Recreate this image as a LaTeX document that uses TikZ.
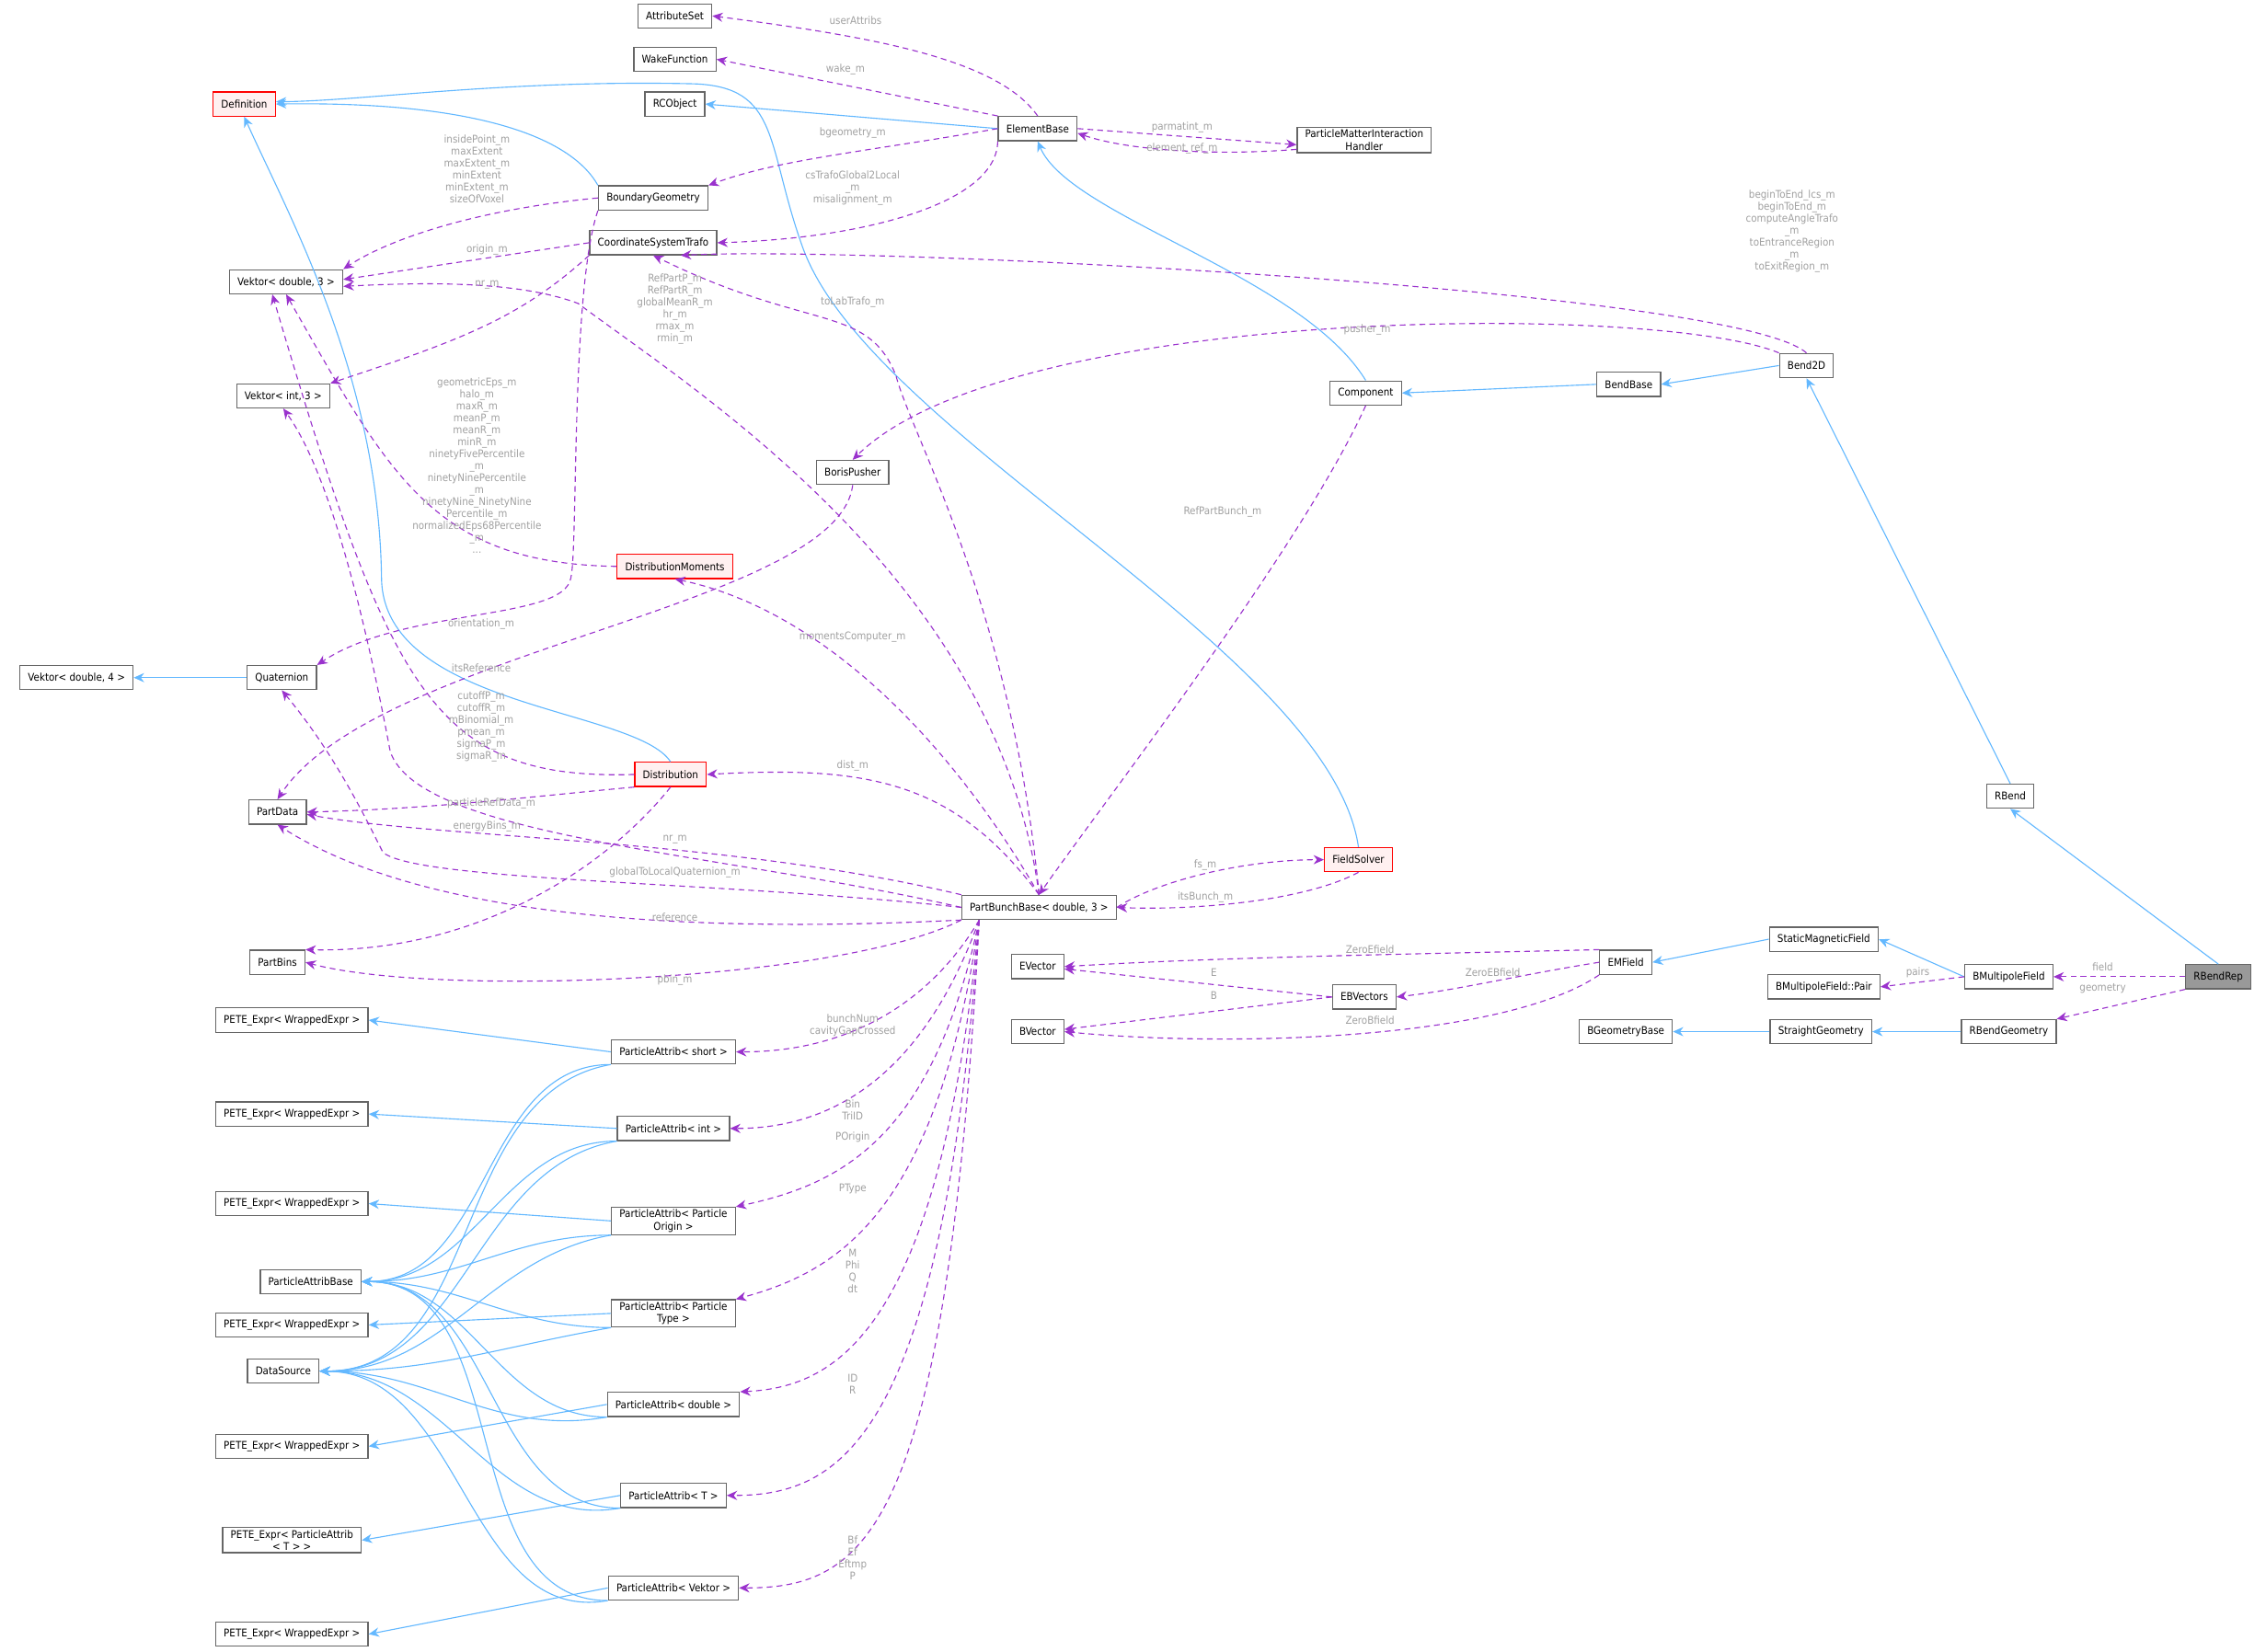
\documentclass[tikz,border=0pt]{standalone}
\usepackage{fontspec}
\setmainfont{DejaVu Sans Condensed}
\usetikzlibrary{arrows.meta,positioning}
\definecolor{dxblue}{RGB}{99,184,255}
\definecolor{dxpurple}{RGB}{154,50,205}
\definecolor{dxgray}{RGB}{102,102,102}
\definecolor{dxlabel}{RGB}{160,160,160}
\definecolor{dxred}{RGB}{255,240,240}
\tikzset{
  cls/.style={draw=dxgray,fill=white,line width=0.5pt,minimum height=10.5pt,inner xsep=3.5pt,inner ysep=1pt,font=\fontsize{4.6}{5.4}\selectfont,align=center},
  clsred/.style={cls,draw=red,fill=dxred},
  clssel/.style={cls,fill=gray!80},
  inh/.style={draw=dxblue,line width=0.45pt,-{Stealth[length=4.5pt,width=4pt]}},
  dep/.style={draw=dxpurple,line width=0.45pt,dashed,dash pattern=on 2.5pt off 1.8pt,-{Stealth[length=4.5pt,width=4pt]}},
  lbl/.style={text=dxlabel,font=\fontsize{4.6}{5.2}\selectfont,align=center,inner sep=0pt}
}
\begin{document}
\begin{tikzpicture}[x=0.628pt,y=-0.628pt]
  \useasboundingbox (0,0) rectangle (1568,1143);
  % top row
  \node[cls] (attrset) at (467,11) {AttributeSet};
  \node[cls] (wake) at (467,41) {WakeFunction};
  \node[cls] (rco) at (467,72) {RCObject};
  \node[clsred] (def) at (169,72) {Definition};
  \node[cls] (elem) at (718,89) {ElementBase};
  \node[cls] (pmih) at (944,97) {ParticleMatterInteraction\\Handler};
  \node[cls] (bgeo) at (452,137) {BoundaryGeometry};
  \node[cls] (cst) at (452,168) {CoordinateSystemTrafo};
  \node[cls] (vd3) at (198,195) {Vektor< double, 3 >};
  \node[cls] (vi3) at (196,274) {Vektor< int, 3 >};
  \node[cls] (boris) at (590,327) {BorisPusher};
  \node[cls] (comp) at (945,272) {Component};
  \node[cls] (bendb) at (1127,266) {BendBase};
  \node[cls] (bend2d) at (1250,253) {Bend2D};
  \node[clsred] (dmom) at (467,392) {DistributionMoments};
  \node[cls] (vd4) at (53,469) {Vektor< double, 4 >};
  \node[cls] (quat) at (195,469) {Quaternion};
  \node[cls] (pdata) at (192,562) {PartData};
  \node[clsred] (dist) at (464,536) {Distribution};
  \node[cls] (rbend) at (1391,551) {RBend};
  \node[clsred] (fsolv) at (940,595) {FieldSolver};
  \node[cls] (pbb) at (719,628) {PartBunchBase< double, 3 >};
  \node[cls] (pbins) at (192,666) {PartBins};
  % field side
  \node[cls] (evec) at (718,669) {EVector};
  \node[cls] (bvec) at (718,714) {BVector};
  \node[cls] (ebvec) at (944,690) {EBVectors};
  \node[cls] (emf) at (1125,666) {EMField};
  \node[cls] (smf) at (1262,650) {StaticMagneticField};
  \node[cls] (bmpair) at (1262,683) {BMultipoleField::Pair};
  \node[cls] (bmf) at (1390,676) {BMultipoleField};
  \node[clssel] (rbrep) at (1535,676) {RBendRep};
  \node[cls] (bgb) at (1125,714) {BGeometryBase};
  \node[cls] (sgeo) at (1260,714) {StraightGeometry};
  \node[cls] (rbgeo) at (1390,714) {RBendGeometry};
  % particle attributes
  \node[cls] (pab) at (215,887) {ParticleAttribBase};
  \node[cls] (dsrc) at (196,949) {DataSource};
  \node[cls] (pete7) at (202,1066) {PETE\_Expr< ParticleAttrib\\< T > >};
  \foreach \n/\y in {1/706,2/771,3/833,4/917,5/1001,6/1131}
    \node[cls] (pete\n) at (202,\y) {PETE\_Expr< WrappedExpr >};
  \node[cls] (pashort) at (466,728) {ParticleAttrib< short >};
  \node[cls] (paint) at (466,781) {ParticleAttrib< int >};
  \node[cls] (paorig) at (466,845) {ParticleAttrib< Particle\\Origin >};
  \node[cls] (patype) at (466,909) {ParticleAttrib< Particle\\Type >};
  \node[cls] (padbl) at (466,972) {ParticleAttrib< double >};
  \node[cls] (pat) at (466,1035) {ParticleAttrib< T >};
  \node[cls] (pavek) at (466,1099) {ParticleAttrib< Vektor >};
  \coordinate (pbbs) at ([xshift=-26pt]pbb.south);

  % inheritance
  \draw[inh] (elem.west) -- (rco.east);
  \draw[inh] (bgeo.north west) .. controls (395,95) and (330,70) .. (def.east);
  \draw[inh] (fsolv.north) .. controls (920,450) and (600,300) .. (555,170) .. controls (530,100) and (540,60) .. (480,58) .. controls (350,55) and (250,70) .. ([yshift=1pt]def.east);
  \draw[inh] (dist.north) .. controls (440,490) and (265,490) .. (264,400) .. controls (262,260) and (200,150) .. (def.south);
  \draw[inh] (comp.north) .. controls (900,190) and (740,150) .. (elem.south);
  \draw[inh] (bendb.west) -- (comp.east);
  \draw[inh] (bend2d.west) -- (bendb.east);
  \draw[inh] (rbend.north) -- (bend2d.south);
  \draw[inh] (rbrep.north) -- (rbend.south);
  \draw[inh] (bmf.west) -- (smf.east);
  \draw[inh] (smf.west) -- (emf.east);
  \draw[inh] (rbgeo.west) -- (sgeo.east);
  \draw[inh] (sgeo.west) -- (bgb.east);
  \draw[inh] (quat.west) -- (vd4.east);
  \foreach \a/\p in {pashort/pete1,paint/pete2,paorig/pete3,patype/pete4,padbl/pete5,pat/pete7,pavek/pete6}
  {
    \draw[inh] (\a.west) -- (\p.east);
    \draw[inh] (\a.south west) to[out=180,in=0] (pab.east);
    \draw[inh] (\a.south west) to[out=190,in=0] (dsrc.east);
  }

  % members
  \draw[dep] (elem.north) .. controls (690,40) and (600,25) .. (attrset.east);
  \draw[dep] (elem.north west) -- (wake.east);
  \draw[dep] (elem.west) .. controls (600,105) and (540,110) .. (bgeo.north east);
  \draw[dep] (elem.south west) .. controls (690,140) and (600,165) .. (cst.east);
  \draw[dep] (elem.east) -- ([yshift=-2pt]pmih.west);
  \draw[dep] ([yshift=-4pt]pmih.west) .. controls (840,108) and (780,104) .. ([yshift=-2pt]elem.east);
  \draw[dep] (bgeo.west) .. controls (330,145) and (270,165) .. (vd3.north east);
  \draw[dep] (cst.west) -- ([yshift=1pt]vd3.east);
  \draw[dep] (cst.south west) .. controls (360,220) and (320,235) .. (vi3.north east);
  \draw[dep] (bgeo.south west) .. controls (395,200) and (400,380) .. (395,400) .. controls (390,430) and (280,420) .. (quat.north east);
  \draw[dep] (bend2d.north) .. controls (1200,200) and (600,170) .. ([xshift=12pt]cst.south);
  \draw[dep] (bend2d.north west) .. controls (1150,210) and (700,210) .. (boris.north);
  \draw[dep] (pbb.north) .. controls (700,420) and (630,300) .. (620,260) .. controls (600,210) and (560,230) .. (cst.south);
  \draw[dep] (pbb.north) .. controls (690,400) and (480,270) .. (400,210) .. controls (360,195) and (300,195) .. ([yshift=-2pt]vd3.east);
  \draw[dep] (dmom.west) .. controls (300,390) and (270,330) .. (vd3.south);
  \draw[dep] (dist.west) .. controls (300,540) and (270,480) .. ([xshift=-6pt]vd3.south);
  \draw[dep] (boris.south) .. controls (580,420) and (260,450) .. (pdata.north);
  \draw[dep] (comp.south) .. controls (900,380) and (760,560) .. (pbb.north);
  \draw[dep] (pbb.north) .. controls (650,500) and (560,420) .. (dmom.south);
  \draw[dep] (pbb.north) .. controls (660,540) and (600,530) .. (dist.east);
  \draw[dep] (dist.south west) .. controls (380,550) and (300,560) .. (pdata.east);
  \draw[dep] (dist.south) .. controls (420,600) and (330,660) .. (pbins.north east);
  \draw[dep] (pbb.west) .. controls (500,590) and (290,580) .. (270,520) .. controls (255,440) and (230,330) .. (vi3.south);
  \draw[dep] (pbb.west) .. controls (500,610) and (290,610) .. (265,590) .. controls (250,560) and (230,520) .. (quat.south);
  \draw[dep] (pbb.north west) .. controls (500,580) and (300,580) .. ([yshift=-1pt]pdata.east);
  \draw[dep] (pbb.south west) .. controls (500,645) and (300,640) .. (pdata.south);
  \draw[dep] (pbb.south west) .. controls (580,680) and (300,690) .. (pbins.east);
  \draw[dep] (pbb.east) .. controls (800,610) and (860,595) .. (fsolv.west);
  \draw[dep] (fsolv.south) .. controls (900,625) and (820,630) .. (pbb.east);
  \draw[dep] (pbbs) .. controls (640,700) and (580,728) .. (pashort.east);
  \draw[dep] (pbbs) .. controls (640,740) and (580,781) .. (paint.east);
  \draw[dep] (pbbs) .. controls (645,790) and (580,820) .. (paorig.north east);
  \draw[dep] (pbbs) .. controls (648,840) and (580,880) .. (patype.north east);
  \draw[dep] (pbbs) .. controls (650,920) and (580,960) .. (padbl.north east);
  \draw[dep] (pbbs) .. controls (652,1000) and (580,1035) .. (pat.east);
  \draw[dep] (pbbs) .. controls (655,1060) and (600,1099) .. (pavek.east);
  \draw[dep] (emf.north west) .. controls (1000,660) and (850,662) .. (evec.east);
  \draw[dep] (emf.west) .. controls (1050,675) and (1010,685) .. (ebvec.east);
  \draw[dep] (emf.south west) .. controls (1040,720) and (850,725) .. (bvec.east);
  \draw[dep] (ebvec.west) -- ([yshift=-1pt]evec.east);
  \draw[dep] (ebvec.west) -- ([yshift=1pt]bvec.east);
  \draw[dep] (bmf.west) -- (bmpair.east);
  \draw[dep] (rbrep.west) -- (bmf.east);
  \draw[dep] (rbrep.south west) -- (rbgeo.north east);

  % labels
  \node[lbl] at (592,14) {userAttribs};
  \node[lbl] at (585,48) {wake\_m};
  \node[lbl] at (590,92) {bgeometry\_m};
  \node[lbl] at (590,130) {csTrafoGlobal2Local\\\_m\\misalignment\_m};
  \node[lbl] at (818,88) {parmatint\_m};
  \node[lbl] at (818,103) {element\_ref\_m};
  \node[lbl] at (330,117) {insidePoint\_m\\maxExtent\\maxExtent\_m\\minExtent\\minExtent\_m\\sizeOfVoxel};
  \node[lbl] at (337,173) {origin\_m};
  \node[lbl] at (337,197) {nr\_m};
  \node[lbl] at (467,214) {RefPartP\_m\\RefPartR\_m\\globalMeanR\_m\\hr\_m\\rmax\_m\\rmin\_m};
  \node[lbl] at (590,209) {toLabTrafo\_m};
  \node[lbl] at (1240,160) {beginToEnd\_lcs\_m\\beginToEnd\_m\\computeAngleTrafo\\\_m\\toEntranceRegion\\\_m\\toExitRegion\_m};
  \node[lbl] at (946,228) {pusher\_m};
  \node[lbl] at (330,322) {geometricEps\_m\\halo\_m\\maxR\_m\\meanP\_m\\meanR\_m\\minR\_m\\ninetyFivePercentile\\\_m\\ninetyNinePercentile\\\_m\\ninetyNine\_NinetyNine\\Percentile\_m\\normalizedEps68Percentile\\\_m\\...};
  \node[lbl] at (333,432) {orientation\_m};
  \node[lbl] at (846,354) {RefPartBunch\_m};
  \node[lbl] at (333,462) {itsReference};
  \node[lbl] at (590,441) {momentsComputer\_m};
  \node[lbl] at (333,503) {cutoffP\_m\\cutoffR\_m\\mBinomial\_m\\pmean\_m\\sigmaP\_m\\sigmaR\_m};
  \node[lbl] at (590,530) {dist\_m};
  \node[lbl] at (340,556) {particleRefData\_m};
  \node[lbl] at (337,572) {energyBins\_m};
  \node[lbl] at (467,581) {nr\_m};
  \node[lbl] at (467,604) {globalToLocalQuaternion\_m};
  \node[lbl] at (467,635) {reference};
  \node[lbl] at (467,678) {pbin\_m};
  \node[lbl] at (834,599) {fs\_m};
  \node[lbl] at (834,621) {itsBunch\_m};
  \node[lbl] at (590,710) {bunchNum\\cavityGapCrossed};
  \node[lbl] at (590,768) {Bin\\TriID};
  \node[lbl] at (590,787) {POrigin};
  \node[lbl] at (590,823) {PType};
  \node[lbl] at (590,880) {M\\Phi\\Q\\dt};
  \node[lbl] at (590,958) {ID\\R};
  \node[lbl] at (590,1078) {Bf\\Ef\\Eftmp\\P};
  \node[lbl] at (948,657) {ZeroEfield};
  \node[lbl] at (840,673) {E};
  \node[lbl] at (1033,673) {ZeroEBfield};
  \node[lbl] at (840,689) {B};
  \node[lbl] at (948,706) {ZeroBfield};
  \node[lbl] at (1327,673) {pairs};
  \node[lbl] at (1455,669) {field};
  \node[lbl] at (1455,684) {geometry};
\end{tikzpicture}
\end{document}
